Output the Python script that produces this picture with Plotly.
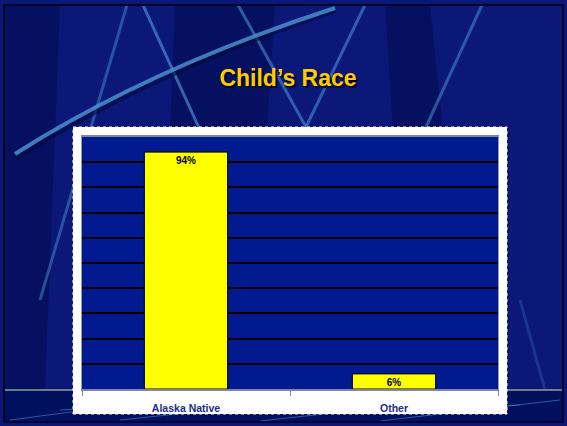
import plotly.graph_objects as go

# Datos del gráfico
categorias = ["Alaska Native", "Other"]
porcentajes = [94, 6]
etiquetas = ["94%", "6%"]
lineas_guia = [10, 20, 30, 40, 50, 60, 70, 80, 90]

W, H = 567, 426
# márgenes en px -> área de trazado 82..498 x 137..389
M_L, M_R, M_T, M_B = 82, 69, 137, 37
PW, PH = W - M_L - M_R, H - M_T - M_B


def px(x):
    return (x - M_L) / PW


def py(y):
    return (H - M_B - y) / PH


fig = go.Figure()
fig.add_trace(go.Bar(
    x=categorias, y=porcentajes, text=etiquetas,
    textposition="inside", insidetextanchor="end", textangle=0, constraintext="none",
    textfont=dict(family="Liberation Sans, Arial", size=10, color="black", weight="bold"),
    marker=dict(color="#ffff00", line=dict(color="black", width=1)),
    width=0.4, hoverinfo="skip",
))

formas = []
# franjas oscuras del fondo de la diapositiva
for x0, x1, x2, x3 in [(5, 60, 45, 5), (175, 275, 250, 160), (385, 430, 470, 410)]:
    formas.append(dict(type="path", xref="paper", yref="paper", layer="below",
                       path=f"M {px(x0)},{py(5)} L {px(x1)},{py(5)} L {px(x2)},{py(390)} L {px(x3)},{py(390)} Z",
                       fillcolor="rgba(0,5,60,0.4)", line=dict(width=0)))
# líneas diagonales decorativas
for (xa, ya, xb, yb, a) in [(127, 5, 40, 300, 0.5), (143, 5, 200, 130, 0.7), (238, 5, 330, 170, 0.6),
                            (365, 5, 290, 160, 0.6), (482, 5, 420, 140, 0.55), (520, 300, 545, 390, 0.25)]:
    formas.append(dict(type="line", xref="paper", yref="paper", layer="below",
                       x0=px(xa), y0=py(ya), x1=px(xb), y1=py(yb),
                       line=dict(color=f"rgba(70,140,210,{a})", width=3)))
# curva grande
formas.append(dict(type="path", xref="paper", yref="paper", layer="below",
                   path=f"M {px(15)},{py(158)} Q {px(150)},{py(72)} {px(335)},{py(10)}",
                   line=dict(color="rgba(0,10,60,0.6)", width=6)))
formas.append(dict(type="path", xref="paper", yref="paper", layer="below",
                   path=f"M {px(15)},{py(154)} Q {px(150)},{py(68)} {px(335)},{py(8)}",
                   line=dict(color="rgba(80,150,215,0.8)", width=4)))
# banda inferior
formas.append(dict(type="rect", xref="paper", yref="paper", layer="below",
                   x0=px(5), x1=px(563), y0=py(390), y1=py(422),
                   fillcolor="#000f5e", line=dict(width=0)))
formas.append(dict(type="line", xref="paper", yref="paper", layer="below",
                   x0=px(5), x1=px(563), y0=py(390), y1=py(390),
                   line=dict(color="#6f7c88", width=2)))
for (xa, ya, xb, yb) in [(10, 420, 200, 395), (120, 420, 330, 398), (260, 421, 470, 398),
                         (380, 421, 560, 400), (60, 410, 250, 400), (300, 412, 520, 405)]:
    formas.append(dict(type="line", xref="paper", yref="paper", layer="below",
                       x0=px(xa), y0=py(ya), x1=px(xb), y1=py(yb),
                       line=dict(color="rgba(90,160,220,0.5)", width=1)))
# panel blanco detrás del gráfico
formas.append(dict(type="rect", xref="paper", yref="paper", layer="below",
                   x0=px(73), x1=px(507), y0=py(414), y1=py(127),
                   fillcolor="white", line=dict(color="white", width=1, dash="dot")))
# fondo azul del área de trazado (el panel blanco lo taparía)
formas.append(dict(type="rect", xref="paper", yref="paper", layer="below",
                   x0=0, x1=1, y0=0, y1=1, fillcolor="#021a8f", line=dict(width=0)))
# marco de la diapositiva
formas.append(dict(type="rect", xref="paper", yref="paper", layer="above",
                   x0=px(4), x1=px(563), y0=py(422), y1=py(5),
                   line=dict(color="#000428", width=2)))

fig.update_layout(
    width=W, height=H,
    margin=dict(l=M_L, r=M_R, t=M_T, b=M_B),
    paper_bgcolor="#0b1878", plot_bgcolor="#021a8f",
    showlegend=False, bargap=0.6,
    title=dict(text="Child’s Race", x=px(288), xanchor="center", xref="paper",
               y=1 - 78 / H, yanchor="middle",
               font=dict(family="Liberation Sans, Arial", size=23, color="#ffcc00",
                         weight="bold", shadow="2px 2px 1px #000530")),
    shapes=formas,
    xaxis=dict(showline=True, linecolor="#7c86b0", linewidth=1.5, mirror=True,
               ticks="outside", tickson="boundaries", ticklen=5, tickcolor="#7c86b0",
               ticklabelstandoff=9,
               tickfont=dict(family="Liberation Sans, Arial", size=10.5, color="#1c2c8c", weight="bold"),
               showgrid=False),
    yaxis=dict(range=[0, 100], tickvals=lineas_guia, showticklabels=False, showgrid=True,
               gridcolor="black", gridwidth=1.5, zeroline=False,
               showline=True, linecolor="#9a9aa8", linewidth=1, mirror=True),
)

# sin el margen por defecto del <body>, para que la figura ocupe la ventana
fig.write_html("out.html", config={"displayModeBar": False},
               post_script="document.body.style.margin='0';")
